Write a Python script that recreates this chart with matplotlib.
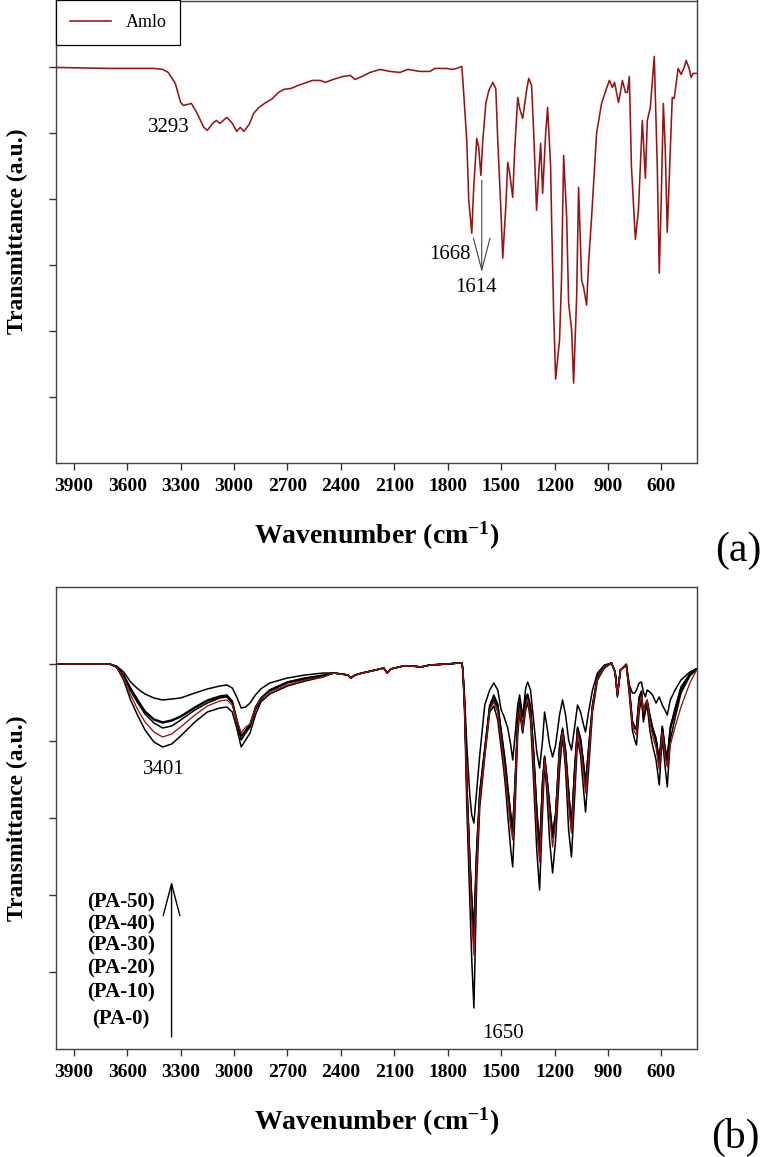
import matplotlib
matplotlib.use("Agg")
import matplotlib.pyplot as plt
import numpy as np

plt.rcParams['font.family'] = ['Liberation Serif', 'DejaVu Serif']
plt.rcParams['mathtext.fontset'] = 'custom'
plt.rcParams['mathtext.rm'] = 'Liberation Serif:bold'
plt.rcParams['mathtext.bf'] = 'Liberation Serif:bold'
plt.rcParams['mathtext.it'] = 'Liberation Serif:bold'

# ---------------- Panel (a): Amlo spectrum ----------------
wn_amlo = [4000, 3700, 3450, 3400, 3370, 3330, 3300, 3285, 3260, 3240, 3210, 3170, 3150, 3120,
           3100, 3080, 3040, 3010, 2985, 2965, 2945, 2915, 2890, 2860, 2820, 2790, 2750, 2720,
           2680, 2640, 2560, 2516, 2488, 2443, 2387, 2348, 2320, 2281, 2236, 2180, 2124, 2068,
           2023, 1956, 1900, 1872, 1805, 1777, 1749, 1721, 1715, 1693, 1682, 1665, 1654, 1637,
           1626, 1614, 1603, 1586, 1569, 1547, 1530, 1519, 1502, 1491, 1474, 1463, 1452, 1435,
           1424, 1407, 1396, 1379, 1357, 1345, 1329, 1317, 1301, 1289, 1278, 1267, 1250, 1239,
           1222, 1215, 1205, 1194, 1172, 1161, 1149, 1132, 1121, 1104, 1093, 1076, 1065, 1048,
           1037, 1020, 1009, 992, 964, 936, 908, 892, 875, 863, 841, 830, 819, 802, 791, 780,
           768, 746, 729, 707, 690, 679, 662, 640, 623, 612, 601, 589, 578, 567, 550, 539, 528,
           517, 506, 489, 472, 461, 444, 433, 422, 405]
t_amlo = [396, 395, 395, 394, 391, 380, 361, 358, 359, 360, 351, 336, 333, 340,
          343, 340, 346, 340, 332, 336, 332, 339, 350, 356, 361, 364, 371, 374,
          375, 378, 383, 383, 381, 384, 387, 388, 384, 387, 391, 394, 392, 391,
          394, 392, 392, 395, 395, 394, 395, 397, 383, 323, 263, 230, 276, 325,
          316, 288, 323, 360, 373, 381, 375, 323, 256, 205, 256, 301, 290, 266,
          313, 366, 355, 345, 373, 385, 378, 330, 253, 290, 320, 270, 330, 356,
          296, 230, 150, 84, 123, 183, 308, 246, 160, 133, 80, 166, 276, 183,
          176, 158, 200, 246, 330, 360, 375, 383, 376, 381, 361, 371, 383, 371, 371, 387,
          296, 224, 253, 343, 285, 343, 356, 407, 296, 190, 263, 360, 313, 231, 313, 366, 365,
          380, 395, 389, 396, 403, 395, 386, 390, 390]

# ---------------- Panel (b): PA series ----------------
wn_pa = [4000, 3700, 3660, 3620, 3581, 3540, 3500, 3450, 3401, 3350, 3300, 3220, 3150, 3080,
         3040, 3010, 2985, 2960, 2935, 2910, 2880, 2850, 2800, 2700, 2600, 2500, 2440, 2360,
         2345, 2320, 2280, 2180, 2160, 2140, 2120, 2050, 2000, 1950, 1900, 1800, 1740, 1720,
         1715, 1704, 1693, 1676, 1665, 1653, 1637, 1620, 1592, 1564, 1541, 1519, 1500, 1485,
         1474, 1463, 1446, 1435, 1424, 1407, 1396, 1379, 1362, 1351, 1335, 1318, 1300, 1284,
         1267, 1256, 1244, 1228, 1211, 1194, 1172, 1155, 1138, 1121, 1105, 1088, 1071, 1054,
         1037, 1026, 1009, 987, 959, 920, 880, 860, 847, 830, 797, 780, 763, 750, 740, 725,
         712, 701, 690, 680, 665, 650, 630, 612, 595, 580, 567, 550, 523, 490, 440, 405]

pa0 = [385, 385, 382, 369, 349, 333, 319, 307, 302, 305, 313, 327, 337, 341,
       342, 337, 321, 302, 309, 316, 334, 347, 355, 363, 368, 372, 376, 374,
       371, 374, 376, 380, 381, 376, 380, 383, 383, 382, 384, 385, 386, 386,
       379, 329, 242, 149, 89, 41, 169, 242, 292, 337, 343, 329, 301, 279,
       259, 234, 199, 182, 229, 314, 337, 316, 339, 347, 329, 269, 199, 159,
       239, 286, 259, 209, 176, 209, 279, 314, 279, 219, 192, 249, 309, 294,
       259, 237, 279, 337, 369, 381, 386, 377, 352, 379, 384, 354, 319, 309, 304, 337,
       351, 327, 337, 344, 319, 304, 289, 264, 312, 284, 262, 309, 331, 356, 373, 379]
pa10 = [385, 385, 382, 371, 354, 339, 327, 317, 312, 315, 322, 334, 343, 348,
        349, 344, 329, 316, 322, 325, 341, 350, 357, 364, 369, 372, 376, 374,
        371, 374, 376, 380, 381, 376, 380, 383, 383, 382, 384, 385, 386, 386,
        379, 334, 259, 179, 129, 94, 187, 249, 294, 339, 347, 337, 309, 287,
        269, 249, 221, 209, 249, 319, 341, 319, 343, 349, 334, 284, 219, 187,
        254, 289, 267, 234, 202, 227, 294, 317, 289, 244, 216, 264, 317, 301,
        274, 256, 289, 341, 371, 382, 386, 377, 354, 379, 384, 357, 324, 317, 314, 344,
        354, 337, 344, 349, 327, 314, 301, 279, 317, 294, 282, 304, 322, 342, 366, 378]
pa20 = [385, 385, 382, 373, 358, 346, 335, 326, 321, 323, 329, 339, 346, 351,
        352, 346, 327, 309, 316, 322, 339, 349, 358, 366, 370, 373, 376, 374,
        371, 374, 376, 380, 381, 376, 380, 383, 383, 382, 384, 385, 386, 386,
        379, 337, 264, 187, 144, 109, 197, 254, 297, 342, 349, 341, 314, 294,
        277, 257, 229, 216, 254, 324, 345, 317, 349, 353, 339, 294, 234, 197,
        264, 291, 271, 241, 211, 231, 299, 319, 294, 254, 219, 274, 319, 307,
        281, 262, 297, 342, 372, 382, 386, 377, 354, 379, 384, 359, 326, 321, 319, 349,
        356, 332, 343, 347, 331, 319, 307, 284, 321, 299, 287, 319, 337, 359, 374, 380]
pa30 = [385, 385, 382, 374, 360, 348, 337, 329, 326, 328, 332, 341, 348, 352,
        353, 347, 329, 312, 318, 324, 341, 350, 359, 367, 371, 373, 376, 374,
        371, 374, 376, 380, 381, 376, 380, 383, 383, 382, 384, 385, 386, 386,
        379, 339, 266, 189, 149, 114, 199, 256, 299, 343, 352, 344, 317, 297,
        281, 261, 233, 219, 256, 327, 346, 319, 351, 354, 341, 297, 239, 199,
        267, 292, 273, 244, 214, 234, 301, 320, 297, 257, 221, 277, 321, 309,
        284, 264, 299, 343, 372, 382, 386, 377, 354, 379, 384, 360, 327, 322, 320, 351,
        357, 333, 344, 348, 333, 321, 309, 287, 322, 301, 289, 321, 339, 361, 375, 380]
pa40 = [385, 385, 382, 374, 361, 349, 338, 330, 327, 329, 333, 342, 349, 353,
        354, 348, 330, 313, 319, 325, 342, 351, 359, 367, 371, 374, 376, 374,
        371, 374, 376, 380, 381, 376, 380, 383, 383, 382, 384, 385, 386, 386,
        379, 341, 267, 192, 152, 119, 202, 258, 301, 344, 354, 345, 319, 299,
        283, 263, 235, 221, 259, 329, 347, 320, 352, 355, 343, 299, 241, 201,
        269, 293, 274, 246, 216, 236, 303, 321, 299, 259, 223, 279, 322, 311,
        286, 266, 301, 344, 373, 382, 386, 377, 354, 379, 384, 361, 328, 323, 321, 352,
        358, 334, 345, 349, 334, 322, 311, 289, 323, 302, 291, 322, 341, 362, 375, 380]
pa50 = [385, 385, 383, 377, 367, 360, 355, 351, 349, 350, 351, 356, 360, 363,
        364, 361, 352, 341, 342, 346, 354, 360, 366, 371, 374, 376, 376, 374,
        371, 374, 376, 380, 381, 376, 380, 383, 383, 382, 384, 385, 386, 386,
        379, 349, 304, 254, 234, 226, 259, 294, 344, 359, 366, 359, 339, 333,
        327, 321, 304, 289, 309, 344, 354, 332, 361, 367, 359, 329, 297, 281,
        309, 337, 324, 304, 292, 304, 334, 349, 334, 309, 299, 321, 344, 337,
        324, 317, 337, 359, 376, 384, 386, 377, 356, 379, 385, 364, 356, 356, 359, 366,
        367, 357, 352, 359, 357, 354, 346, 352, 344, 339, 334, 349, 359, 369, 377, 380]

pa_series = [pa0, pa10, pa20, pa30, pa40, pa50]
pa_colors = ['black', '#961414', 'black', 'black', 'black', 'black']
pa_labels = ['(PA-50)', '(PA-40)', '(PA-30)', '(PA-20)', '(PA-10)', '(PA-0)']
x_ticks = [3900, 3600, 3300, 3000, 2700, 2400, 2100, 1800, 1500, 1200, 900, 600]

RED = '#961414'
W, H = 762, 1157
fig = plt.figure(figsize=(W / 100, H / 100), dpi=100)

L, R = 56, 697
axA = fig.add_axes([L / W, 1 - 463 / H, (R - L) / W, 462.5 / H])
axB = fig.add_axes([L / W, 1 - 1049 / H, (R - L) / W, 462 / H])

for ax in (axA, axB):
    ax.set_xlim(4000, 400)
    ax.set_xticks(x_ticks)
    ax.set_xticklabels([str(t) for t in x_ticks], fontweight='bold', fontsize=14)
    ax.tick_params(axis='both', direction='out', length=5, width=1, color='#333333')
    ax.tick_params(axis='x', pad=6)
    for s in ax.spines.values():
        s.set_color('#404040')
        s.set_linewidth(1.0)
    ax.set_ylabel('Transmittance (a.u.)', fontsize=17, fontweight='bold', va='center')
    ax.yaxis.set_label_coords(-0.06, 0.5)
    ax.set_xlabel(r'Wavenumber (cm$^{-1}$)', fontsize=20, fontweight='bold', va='center')
    ax.xaxis.set_label_coords(0.5, -0.157)

# Panel (a)
axA.set_ylim(0, 463)
axA.set_yticks([66, 132, 198, 264, 330, 396])
axA.set_yticklabels([])
axA.plot(wn_amlo, t_amlo, color=RED, lw=1.15, label='Amlo')
leg = axA.legend(loc='upper left', borderaxespad=0, fancybox=False, framealpha=1,
                 edgecolor='black', fontsize=13, handlelength=2.3, borderpad=0.75,
                 handletextpad=0.8)
leg.get_frame().set_linewidth(0.9)
axA.text(3368, 336, '3293', fontsize=15, ha='center', va='center')
axA.text(1788, 209, '1668', fontsize=15, ha='center', va='center')
axA.text(1642, 176, '1614', fontsize=15, ha='center', va='center')
axA.annotate('', xy=(1609, 191), xytext=(1609, 283),
             arrowprops=dict(arrowstyle='->, head_length=2.3, head_width=0.6',
                             color='#444444', lw=0.8, mutation_scale=10,
                             shrinkA=0, shrinkB=0))

# Panel (b)
axB.set_ylim(0, 462)
axB.set_yticks([77, 154, 231, 308, 385])
axB.set_yticklabels([])
for i, (ser, col) in enumerate(zip(pa_series, pa_colors)):
    axB.plot(wn_pa, ser, color=col, lw=1.1 if col == 'black' else 0.95,
             zorder=3 if col != 'black' else 2)
axB.text(3396, 280, '3401', fontsize=15, ha='center', va='center')
axB.text(1491, 15, '1650', fontsize=15, ha='center', va='center')
label_y = [147, 125, 104, 81, 57, 30]
for lab, yy in zip(pa_labels, label_y):
    axB.text(3637, yy, lab, fontsize=15, fontweight='bold', ha='center', va='center')
axB.annotate('', xy=(3351, 168), xytext=(3351, 12),
             arrowprops=dict(arrowstyle='->, head_length=2.3, head_width=0.6',
                             color='black', lw=1.0, mutation_scale=10,
                             shrinkA=0, shrinkB=0))

fig.text(738 / W, 1 - 551 / H, '(a)', fontsize=30, ha='center', va='center')
fig.text(735 / W, 1 - 1137 / H, '(b)', fontsize=30, ha='center', va='center')

fig.savefig('out.png', dpi=100)
